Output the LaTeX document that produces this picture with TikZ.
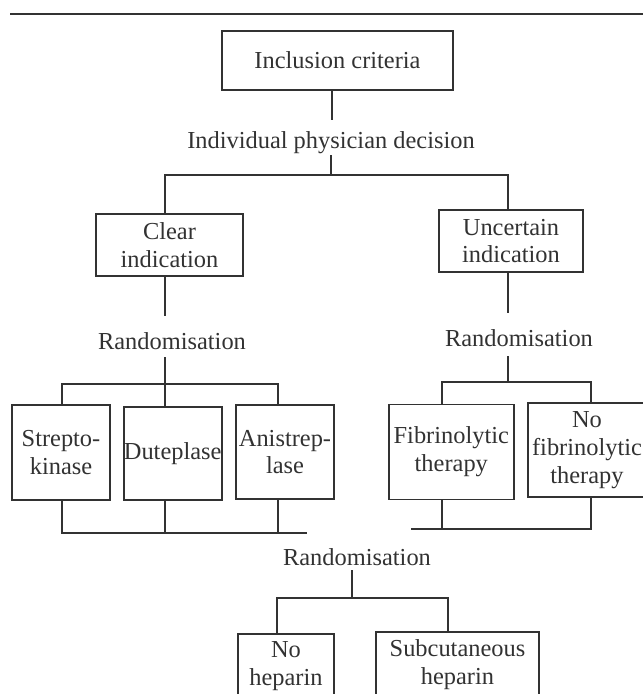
\documentclass[tikz,border=0pt]{standalone}
\usepackage{fontspec}
\setmainfont{Liberation Serif}
\definecolor{ink}{RGB}{50,50,50}
\begin{document}
\begin{tikzpicture}[x=1bp,y=-1bp,
  every node/.style={font=\fontsize{24.5}{28}\selectfont, text=ink, align=center, inner sep=0pt},
  box/.style n args={2}{draw=ink, line width=1.7bp, minimum width=#1 bp, minimum height=#2 bp},
  conn/.style={draw=ink, line width=1.5bp}]
\useasboundingbox (0,0) rectangle (643,694);
\clip (0,0) rectangle (643,694);
% top rule
\coordinate (ruleL) at (10,14);
\coordinate (ruleR) at (643,14);
\draw[conn] (ruleL) -- (ruleR);
% nodes
\node[box={231}{59}] (inc) at (337.5,60.5) {Inclusion criteria};
\node (ipd) at (331,143) {Individual physician decision};
\node[box={147}{62}] (clear) at (169.5,245) {Clear\\indication};
\node[box={144}{62}] (unc) at (511,241) {Uncertain\\indication};
\node (rand1) at (172,341) {Randomisation};
\node (rand2) at (519,338) {Randomisation};
\node[box={98}{95}] (strep) at (61,452.5) {Strepto-\\kinase};
\node[box={98}{93}] (dute) at (172.7,453.5) {Duteplase};
\node[box={98}{94}] (anis) at (285,452) {Anistrep-\\lase};
\node[box={125}{95}] (fib) at (451.3,452) {Fibrinolytic\\therapy};
\node[box={118}{94}] (nofib) at (587,450) {No\\fibrinolytic\\therapy};
\node (rand3) at (357,557) {Randomisation};
\node[box={96}{64}] (nohep) at (286,666) {No\\heparin};
\node[box={163}{66}] (subc) at (457.5,665) {Subcutaneous\\heparin};
% connectors: inclusion -> decision
\coordinate (a1) at (332,120);
\draw[conn] (a1 |- inc.south) -- (a1);
\coordinate (a2) at (331,155);
\coordinate (a3) at (331,175);
\draw[conn] (a2) -- (a3);
\coordinate (bL) at (165,175);
\coordinate (bR) at (508,175);
\draw[conn] (bL |- clear.north) -- (bL) -- (bR) -- (bR |- unc.north);
% clear -> randomisation -> three arms
\coordinate (c1) at (165,316);
\draw[conn] (c1 |- clear.south) -- (c1);
\coordinate (c2) at (165,357);
\coordinate (c3) at (165,384);
\draw[conn] (c2) -- (c3);
\coordinate (cL) at (62,384);
\coordinate (cR) at (278,384);
\draw[conn] (cL |- strep.north) -- (cL) -- (cR) -- (cR |- anis.north);
\draw[conn] (c3) -- (c3 |- dute.north);
% uncertain -> randomisation -> two arms
\coordinate (d1) at (508,313);
\draw[conn] (d1 |- unc.south) -- (d1);
\coordinate (d2) at (508,356);
\coordinate (d3) at (508,382);
\draw[conn] (d2) -- (d3);
\coordinate (dL) at (442,382);
\coordinate (dR) at (591,382);
\draw[conn] (dL |- fib.north) -- (dL) -- (dR) -- (dR |- nofib.north);
% bottom joins
\coordinate (e1) at (62,533);
\coordinate (e2) at (165,533);
\coordinate (e3) at (278,533);
\coordinate (eR) at (307,533);
\draw[conn] (e1 |- strep.south) -- (e1) -- (eR);
\draw[conn] (e2 |- dute.south) -- (e2);
\draw[conn] (e3 |- anis.south) -- (e3);
\coordinate (f1) at (442,529);
\coordinate (f2) at (591,529);
\coordinate (fL) at (411,529);
\draw[conn] (f1 |- fib.south) -- (f1);
\draw[conn] (f2 |- nofib.south) -- (f2) -- (fL);
% final randomisation
\coordinate (g1) at (352,570);
\coordinate (g2) at (352,598);
\draw[conn] (g1) -- (g2);
\coordinate (gL) at (277,598);
\coordinate (gR) at (448,598);
\draw[conn] (gL |- nohep.north) -- (gL) -- (gR) -- (gR |- subc.north);
\end{tikzpicture}
\end{document}
